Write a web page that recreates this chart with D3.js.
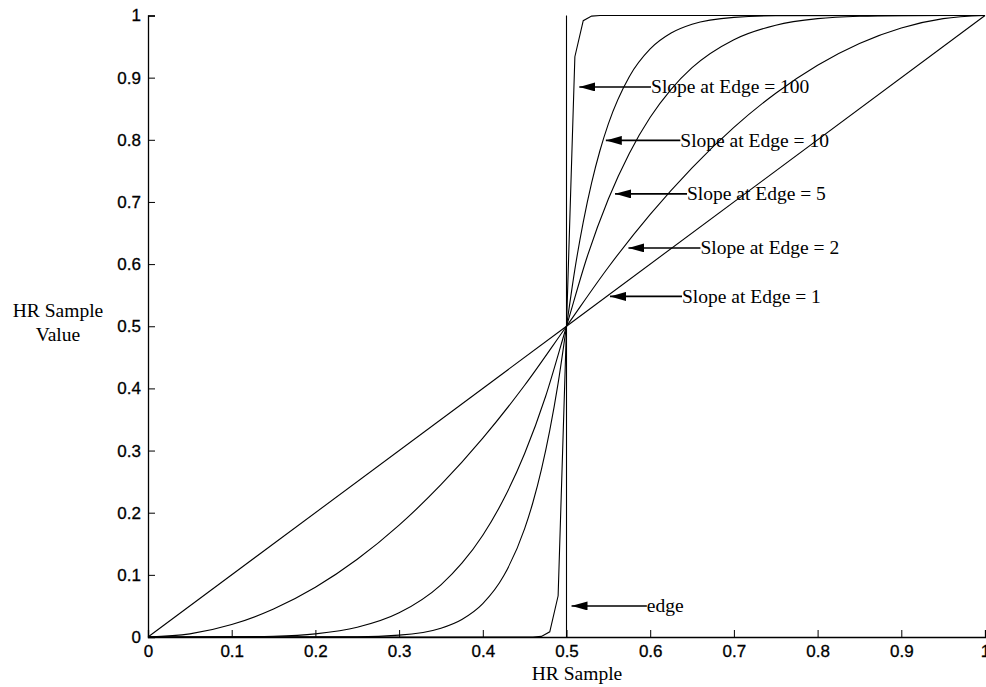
<!DOCTYPE html>
<html>
<head>
<meta charset="utf-8">
<script src="https://cdn.jsdelivr.net/npm/d3@7"></script>
<style>
  body { margin: 0; background: #fff; }
  .lbl { font-family: "Liberation Serif", "Times New Roman", Times, serif; font-size: 19.5px; fill: #000; }
</style>
</head>
<body>
<script>
// curves, slope at edge = 1, 2, 5, 10, 100
let slope1 = [[0, 0], [0.5, 0.5], [1, 1]];

let slope2 = [
  [0, 0], [0.05, 0.005], [0.1, 0.02], [0.15, 0.045], [0.2, 0.08], [0.25, 0.125],
  [0.3, 0.18], [0.35, 0.245], [0.4, 0.32], [0.45, 0.405], [0.5, 0.5],
  [0.55, 0.595], [0.6, 0.68], [0.65, 0.755], [0.7, 0.82], [0.75, 0.875],
  [0.8, 0.92], [0.85, 0.955], [0.9, 0.98], [0.95, 0.995], [1, 1]
];

let slope5 = [
  [0, 0], [0.05, 0], [0.1, 0.0002], [0.15, 0.0012], [0.2, 0.0051], [0.25, 0.0156],
  [0.3, 0.0389], [0.35, 0.084], [0.375, 0.1187], [0.4, 0.1638], [0.425, 0.2219],
  [0.45, 0.2952], [0.475, 0.3869], [0.5, 0.5],
  [0.525, 0.6131], [0.55, 0.7048], [0.575, 0.7781], [0.6, 0.8362], [0.625, 0.8813],
  [0.65, 0.916], [0.7, 0.9611], [0.75, 0.9844], [0.8, 0.9949], [0.85, 0.9988],
  [0.9, 0.9998], [0.95, 1], [1, 1]
];

let slope10 = [
  [0, 0], [0.25, 0.0005], [0.3, 0.003], [0.35, 0.0141], [0.375, 0.0282], [0.4, 0.0537],
  [0.425, 0.0984], [0.45, 0.1743], [0.46, 0.2172], [0.47, 0.2693], [0.48, 0.3324],
  [0.49, 0.4085], [0.5, 0.5],
  [0.51, 0.5915], [0.52, 0.6676], [0.53, 0.7307], [0.54, 0.7828], [0.55, 0.8257],
  [0.575, 0.9016], [0.6, 0.9463], [0.625, 0.9718], [0.65, 0.9859], [0.7, 0.997],
  [0.75, 0.9995], [1, 1]
];

let slope100 = [
  [0, 0], [0.46, 0], [0.47, 0.001], [0.48, 0.0084], [0.49, 0.0663], [0.5, 0.5],
  [0.51, 0.9337], [0.52, 0.9916], [0.53, 0.999], [0.54, 1], [1, 1]
];

let edgeLine = [[0.5, 0], [0.5, 1]];

let xTicks = [0, 0.1, 0.2, 0.3, 0.4, 0.5, 0.6, 0.7, 0.8, 0.9, 1];
let yTicks = [0, 0.1, 0.2, 0.3, 0.4, 0.5, 0.6, 0.7, 0.8, 0.9, 1];

// annotation text, arrow tip (x, y) and text start x, all in data units
let noteText = ["Slope at Edge = 100", "Slope at Edge = 10", "Slope at Edge = 5",
                "Slope at Edge = 2", "Slope at Edge = 1", "edge"];
let noteTip = [[0.5153, 0.885], [0.547, 0.799], [0.558, 0.713],
               [0.574, 0.626], [0.552, 0.548], [0.506, 0.05]];
let noteTextX = [0.601, 0.636, 0.644, 0.66, 0.638, 0.596];

let svg = d3.select('body')
      .append('svg')
      .attr('width', 986)
      .attr('height', 687);

let x = d3.scaleLinear().domain([0, 1]).range([148, 985]);
let y = d3.scaleLinear().domain([0, 1]).range([637, 15.5]);

svg.append('defs').append('marker')
   .attr('id', 'head')
   .attr('viewBox', '0 0 16 9')
   .attr('refX', 16).attr('refY', 4.5)
   .attr('markerWidth', 16).attr('markerHeight', 9)
   .attr('markerUnits', 'userSpaceOnUse')
   .attr('orient', 'auto')
   .append('path')
   .attr('d', 'M16,4.5 L0,0 L0,9 Z')
   .attr('fill', '#000');

// axes, ticks point inward
let xAxis = d3.axisBottom(x).tickValues(xTicks).tickSize(-7).tickPadding(10)
      .tickFormat(d3.format('~g'));
let yAxis = d3.axisLeft(y).tickValues(yTicks).tickSize(-7).tickPadding(7)
      .tickFormat(d3.format('~g'));

let gx = svg.append('g').attr('transform', 'translate(0,637)').call(xAxis);
let gy = svg.append('g').attr('transform', 'translate(148,0)').call(yAxis);
[gx, gy].forEach(g => {
  g.select('.domain').attr('stroke', '#000').attr('stroke-width', 1.3);
  g.selectAll('.tick line').attr('stroke', '#000').attr('stroke-width', 1);
  g.selectAll('.tick text')
   .style('font-family', '"Liberation Sans", Arial, Helvetica, sans-serif')
   .style('font-size', '17px')
   .style('fill', '#000')
   .style('stroke', '#000')
   .style('stroke-width', 0.3);
});
gx.selectAll('.tick text').attr('dy', '0.6em');

function draw(points, curve){
  let lineDrawer = d3.line()
        .x(d => x(d[0]))
        .y(d => y(d[1]))
        .curve(curve);

  svg.append("path")
     .style("fill", "none")
     .style("stroke", "black")
     .style("stroke-width", 1.1)
     .attr("d", lineDrawer(points));
}

draw(slope1, d3.curveLinear);
draw(slope2, d3.curveMonotoneX);
draw(slope5, d3.curveMonotoneX);
draw(slope10, d3.curveMonotoneX);
draw(slope100, d3.curveLinear);
draw(edgeLine, d3.curveLinear);

// arrows and their labels
noteText.forEach((t, i) => {
  let tx = x(noteTextX[i]);
  let ty = y(noteTip[i][1]);
  svg.append('line')
     .attr('x1', tx).attr('y1', ty)
     .attr('x2', x(noteTip[i][0])).attr('y2', ty)
     .attr('stroke', '#000').attr('stroke-width', 1.6)
     .attr('marker-end', 'url(#head)');
  svg.append('text')
     .attr('class', 'lbl')
     .attr('x', tx).attr('y', ty)
     .attr('dy', '0.33em')
     .text(t);
});

svg.append('text').attr('class', 'lbl')
   .attr('x', 577).attr('y', 680)
   .attr('text-anchor', 'middle')
   .text('HR Sample');

svg.append('text').attr('class', 'lbl')
   .attr('x', 58).attr('y', 317)
   .attr('text-anchor', 'middle')
   .text('HR Sample');
svg.append('text').attr('class', 'lbl')
   .attr('x', 58).attr('y', 341)
   .attr('text-anchor', 'middle')
   .text('Value');
</script>
</body>
</html>
